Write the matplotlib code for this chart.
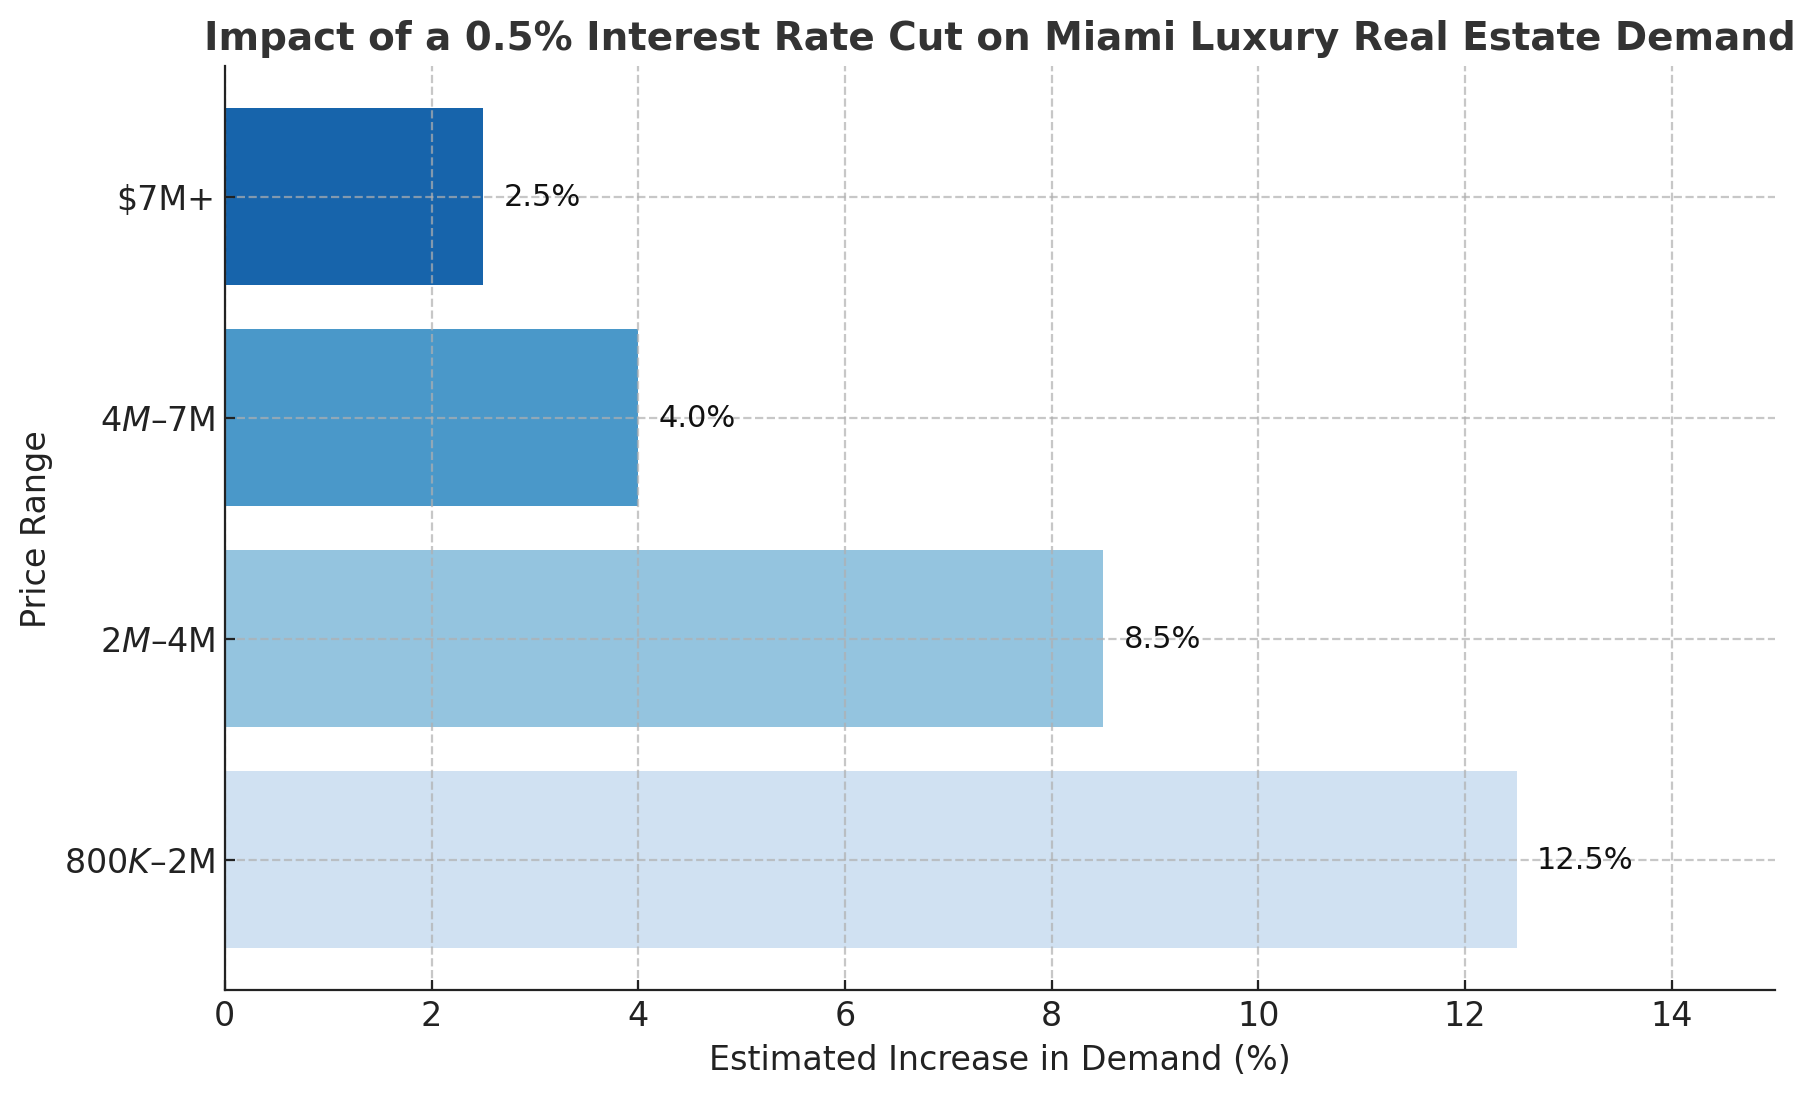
import matplotlib
matplotlib.use("Agg")
import matplotlib.pyplot as plt

# price buckets (bottom to top) and estimated demand increase
price_ranges = ["$800K–$2M", "$2M–$4M", "$4M–$7M", "$7M+"]
demand_increase = [12.5, 8.5, 4.0, 2.5]

cmap = plt.cm.Blues
bar_colors = [cmap(0.2), cmap(0.4), cmap(0.6), cmap(0.8)]

fig, ax = plt.subplots(figsize=(10, 6))

bars = ax.barh(price_ranges, demand_increase, color=bar_colors)

for bar, val in zip(bars, demand_increase):
    ax.text(val + 0.2, bar.get_y() + bar.get_height() / 2, f"{val}%",
            va="center", ha="left", fontsize=11, color="#111111")

ax.set_xlim(0, 15)
ax.set_title("Impact of a 0.5% Interest Rate Cut on Miami Luxury Real Estate Demand",
             fontsize=14, fontweight="bold", color="#333333")
ax.set_xlabel("Estimated Increase in Demand (%)", fontsize=12, color="#222222")
ax.set_ylabel("Price Range", fontsize=12, color="#222222")

ax.tick_params(axis="both", direction="in", labelsize=12, colors="#222222")
# grid sits on top of the bars, like the original
ax.set_axisbelow("line")
ax.grid(True, linestyle="--", color="#b0b0b0", alpha=0.7)

ax.spines["top"].set_visible(False)
ax.spines["right"].set_visible(False)
ax.spines["left"].set_color("#222222")
ax.spines["bottom"].set_color("#222222")

plt.savefig("out.png", dpi=200, bbox_inches="tight")
